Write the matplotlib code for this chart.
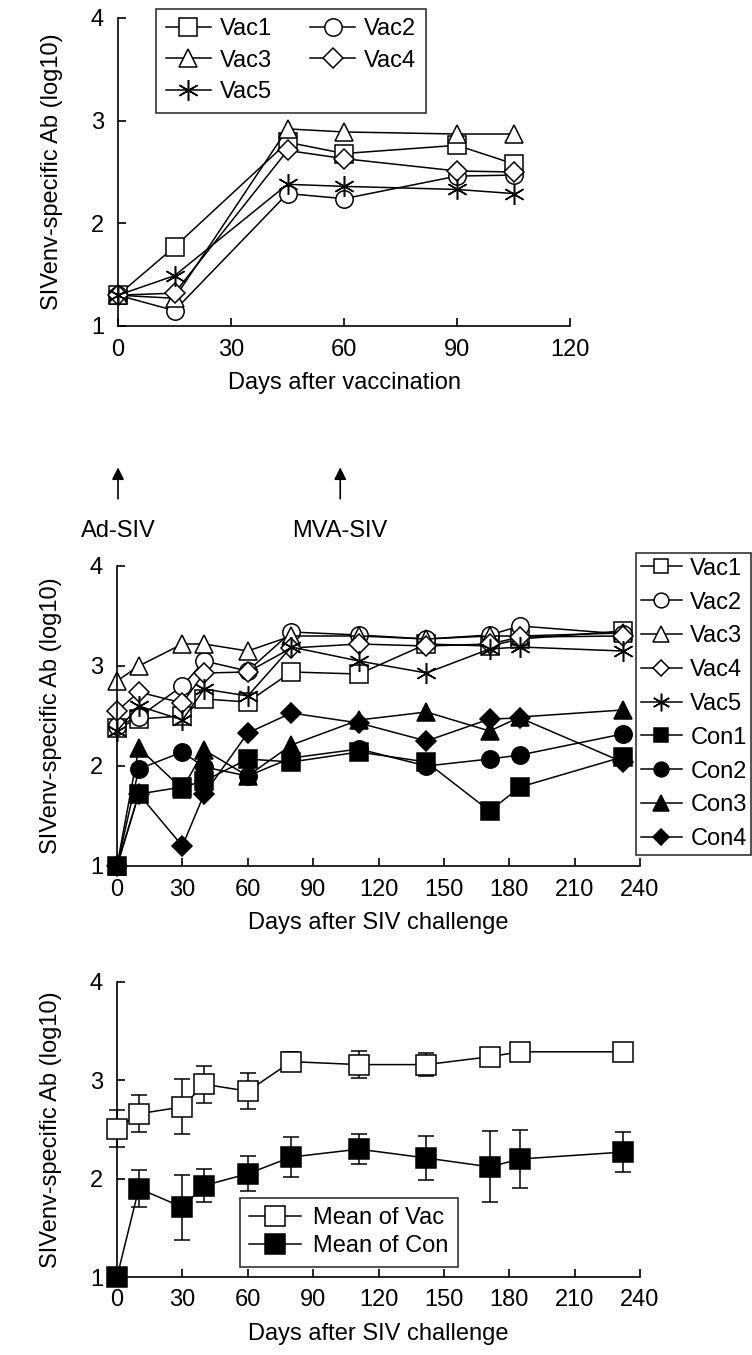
"""Antibody titres after vaccination and after SIV challenge."""

import matplotlib
matplotlib.use('Agg')
import matplotlib.pyplot as plt

plt.rcParams['font.family'] = ['Liberation Sans', 'DejaVu Sans']

W, H = 752, 1355
DPI = 100
FONT = 17
Y_LABEL = 'SIVenv-specific Ab (log10)'

# panel a: after vaccination
VAC_DAYS = [0, 15, 45, 60, 90, 105]
VAC1_PRE = [1.30, 1.77, 2.79, 2.68, 2.76, 2.58]
VAC2_PRE = [1.30, 1.15, 2.29, 2.24, 2.46, 2.47]
VAC3_PRE = [1.30, 1.27, 2.92, 2.89, 2.87, 2.87]
VAC4_PRE = [1.30, 1.32, 2.71, 2.63, 2.51, 2.50]
VAC5_PRE = [1.30, 1.49, 2.38, 2.36, 2.33, 2.29]

# panel b: individual animals after challenge
CH_DAYS = [0, 10, 30, 40, 60, 80, 111, 142, 171, 185, 232]
VAC1 = [2.38, 2.47, 2.50, 2.67, 2.64, 2.94, 2.92, 3.22, 3.20, 3.27, 3.35]
VAC2 = [2.40, 2.49, 2.80, 3.05, 2.95, 3.34, 3.31, 3.27, 3.31, 3.40, 3.32]
VAC3 = [2.85, 3.00, 3.22, 3.22, 3.15, 3.30, 3.30, 3.27, 3.30, 3.30, 3.33]
VAC4 = [2.55, 2.74, 2.63, 2.93, 2.94, 3.18, 3.22, 3.20, 3.22, 3.29, 3.30]
VAC5 = [2.35, 2.60, 2.46, 2.77, 2.70, 3.19, 3.05, 2.93, 3.17, 3.19, 3.15]
CON1 = [1.00, 1.72, 1.79, 1.85, 2.07, 2.04, 2.14, 2.04, 1.55, 1.79, 2.09]
CON2 = [1.00, 1.97, 2.14, 1.99, 1.90, 2.08, 2.17, 2.00, 2.07, 2.11, 2.32]
CON3 = [1.00, 2.18, 1.77, 2.16, 1.90, 2.21, 2.46, 2.54, 2.35, 2.49, 2.56]
CON4 = [1.00, 1.72, 1.20, 1.72, 2.33, 2.53, 2.43, 2.25, 2.47, 2.48, 2.04]

# panel c: group means
VAC_MEAN = [2.51, 2.66, 2.73, 2.96, 2.89, 3.19, 3.16, 3.16, 3.24, 3.29, 3.29]
VAC_SD = [0.19, 0.19, 0.28, 0.19, 0.18, 0.10, 0.14, 0.12, 0.04, 0.03, 0.03]
CON_MEAN = [1.00, 1.90, 1.71, 1.93, 2.05, 2.22, 2.30, 2.21, 2.12, 2.20, 2.27]
CON_SD = [0.00, 0.19, 0.33, 0.17, 0.18, 0.20, 0.15, 0.22, 0.36, 0.29, 0.20]

VAC_NAMES = ['Vac1', 'Vac2', 'Vac3', 'Vac4', 'Vac5']
CON_NAMES = ['Con1', 'Con2', 'Con3', 'Con4']
OPEN_MARKERS = ['s', 'o', '^', 'D', (6, 2, 0)]
FILLED_MARKERS = ['s', 'o', '^', 'D']
MARKER_SIZES = [12.5, 12.5, 13.5, 10, 15]


def box(left, top, right, bottom):
    """Pixel box -> figure fraction rect."""
    return [left / W, 1 - bottom / H, (right - left) / W, (bottom - top) / H]


def style_axes(ax, xmax, xstep):
    ax.set_xlim(0, xmax)
    ax.set_ylim(1, 4)
    ax.set_xticks(range(0, xmax + 1, xstep))
    ax.set_yticks([1, 2, 3, 4])
    for side in ('top', 'right'):
        ax.spines[side].set_visible(False)
    for side in ('left', 'bottom'):
        ax.spines[side].set_linewidth(1.2)
    ax.tick_params(direction='in', length=6, width=1.2, labelsize=FONT)
    ax.tick_params(axis='x', pad=9)
    ax.tick_params(axis='y', pad=10)
    ax.set_ylabel(Y_LABEL, fontsize=FONT, labelpad=20)


def series_kw(marker, size, filled):
    kw = dict(color='black', lw=1.1, marker=marker, ms=size, clip_on=False,
              mec='black', mew=1.1)
    kw['mfc'] = 'black' if filled else 'white'
    return kw


def frame(leg):
    leg.get_frame().set_linewidth(1.2)


def main():
    fig = plt.figure(figsize=(W / DPI, H / DPI), dpi=DPI)

    # --- panel a
    ax_a = fig.add_axes(box(118, 18, 570, 326))
    pre = [VAC1_PRE, VAC2_PRE, VAC3_PRE, VAC4_PRE, VAC5_PRE]
    for name, vals, mk, ms in zip(VAC_NAMES, pre, OPEN_MARKERS, MARKER_SIZES):
        ax_a.plot(VAC_DAYS, vals, label=name, **series_kw(mk, ms, False))
    style_axes(ax_a, 120, 30)
    ax_a.set_xlabel('Days after vaccination', fontsize=FONT, labelpad=8)
    handles, labels = ax_a.get_legend_handles_labels()
    order = [0, 2, 4, 1, 3]
    frame(ax_a.legend([handles[i] for i in order], [labels[i] for i in order],
                      ncol=2, loc='upper left', bbox_to_anchor=(0.085, 1.03),
                      fontsize=FONT, fancybox=False, edgecolor='black',
                      handlelength=1.9, handletextpad=0.4, columnspacing=1.6,
                      labelspacing=0.4, borderpad=0.4, borderaxespad=0))
    for day, text in [(0, 'Ad-SIV'), (59, 'MVA-SIV')]:
        ax_a.annotate('', xy=(day, -0.45), xytext=(day, -0.57),
                      xycoords=('data', 'axes fraction'),
                      textcoords=('data', 'axes fraction'),
                      arrowprops=dict(arrowstyle='-|>', color='black', lw=1.2,
                                      mutation_scale=18))
        ax_a.text(day, -0.665, text, transform=ax_a.get_xaxis_transform(),
                  ha='center', va='center', fontsize=FONT)

    # --- panel b
    ax_b = fig.add_axes(box(117, 566, 640, 866))
    vac = [VAC1, VAC2, VAC3, VAC4, VAC5]
    con = [CON1, CON2, CON3, CON4]
    for name, vals, mk, ms in zip(VAC_NAMES, vac, OPEN_MARKERS, MARKER_SIZES):
        ax_b.plot(CH_DAYS, vals, label=name, **series_kw(mk, ms, False))
    for name, vals, mk, ms in zip(CON_NAMES, con, FILLED_MARKERS, MARKER_SIZES):
        ax_b.plot(CH_DAYS, vals, label=name, **series_kw(mk, ms, True))
    style_axes(ax_b, 240, 30)
    ax_b.set_xlabel('Days after SIV challenge', fontsize=FONT, labelpad=8)
    frame(fig.legend(*ax_b.get_legend_handles_labels(), loc='upper left',
                     bbox_to_anchor=(636 / W, 1 - 553 / H), fontsize=FONT,
                     fancybox=False, edgecolor='black', handlelength=1.75,
                     handletextpad=0.35, labelspacing=0.5, borderpad=0.2,
                     borderaxespad=0, markerscale=0.85))

    # --- panel c
    ax_c = fig.add_axes(box(117, 982, 640, 1277))
    for mean, sd, fill, name in [(VAC_MEAN, VAC_SD, 'white', 'Mean of Vac'),
                                 (CON_MEAN, CON_SD, 'black', 'Mean of Con')]:
        ax_c.errorbar(CH_DAYS, mean, yerr=sd, fmt='none', ecolor='black',
                      elinewidth=1.1, capsize=6, capthick=1.1, clip_on=False,
                      zorder=2)
        ax_c.plot(CH_DAYS, mean, color='black', lw=1.1, marker='s', ms=14,
                  mfc=fill, mec='black', mew=1.1, clip_on=False, zorder=3,
                  label=name)
    style_axes(ax_c, 240, 30)
    ax_c.set_xlabel('Days after SIV challenge', fontsize=FONT, labelpad=8)
    frame(ax_c.legend(loc='lower left', bbox_to_anchor=(0.235, 0.035),
                      fontsize=FONT, fancybox=False, edgecolor='black',
                      handlelength=2.2, handletextpad=0.5, labelspacing=0.25,
                      borderpad=0.4, borderaxespad=0))

    fig.savefig('out.png', dpi=DPI)
    plt.close(fig)


if __name__ == '__main__':
    main()
